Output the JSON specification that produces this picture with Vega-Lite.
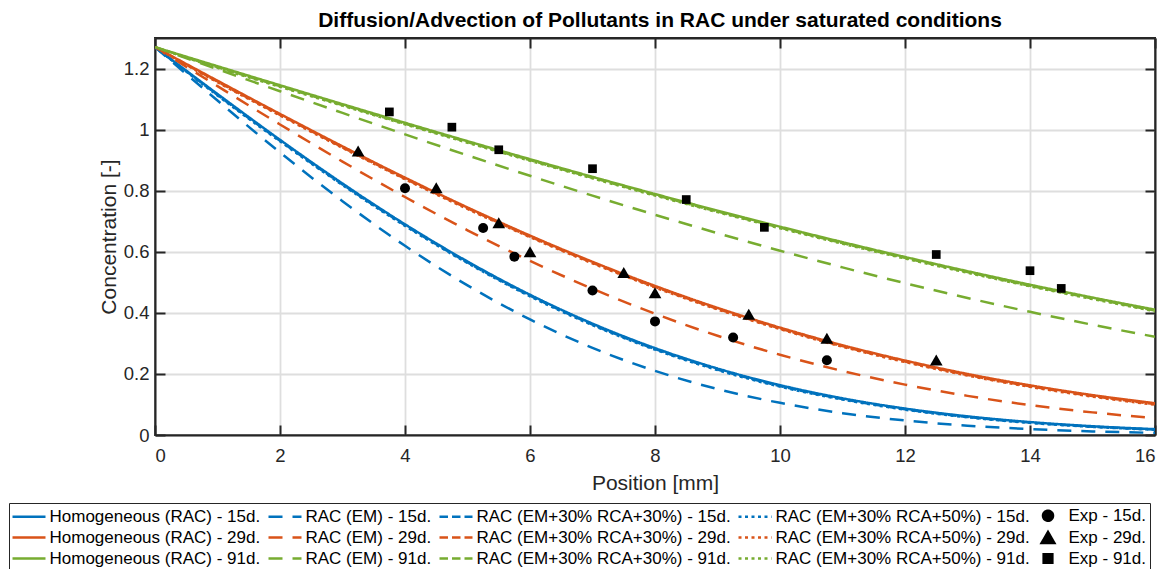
{
  "$schema": "https://vega.github.io/schema/vega-lite/v6.json",
  "width": 1000,
  "height": 397,
  "autosize": {"type": "none"},
  "padding": {"left": 155, "top": 38, "right": 12, "bottom": 134},
  "background": "white",
  "title": {
    "text": "Diffusion/Advection of Pollutants in RAC under saturated conditions",
    "font": "Liberation Sans",
    "fontSize": 21,
    "fontWeight": "bold",
    "color": "#000000",
    "anchor": "middle",
    "frame": "group",
    "dx": 5,
    "offset": 6
  },
  "config": {
    "font": "Liberation Sans",
    "view": {"stroke": "#262626", "strokeWidth": 2},
    "axis": {
      "labelFont": "Liberation Sans",
      "titleFont": "Liberation Sans",
      "labelFontSize": 18.5,
      "titleFontSize": 21,
      "titleFontWeight": "normal",
      "labelColor": "#262626",
      "titleColor": "#262626",
      "domainColor": "#262626",
      "domainWidth": 2,
      "tickColor": "#262626",
      "tickWidth": 2,
      "tickSize": -10,
      "gridColor": "#dedede",
      "gridWidth": 1.8
    },
    "legend": {
      "labelFont": "Liberation Sans",
      "labelFontSize": 17,
      "labelColor": "#000000",
      "symbolSize": 100,
      "symbolStrokeWidth": 2.5,
      "symbolOffset": 7.5,
      "labelOffset": 12,
      "rowPadding": 1,
      "columnPadding": 2,
      "padding": 4,
      "strokeColor": "#262626",
      "fillColor": "white",
      "labelLimit": 0
    }
  },
  "layer": [
    {
      "data": {
        "values": [
          {"s":"Homogeneous (RAC) - 15d.","x":0,"y":1.27},{"s":"Homogeneous (RAC) - 15d.","x":1,"y":1.1166},{"s":"Homogeneous (RAC) - 15d.","x":2,"y":0.9666},{"s":"Homogeneous (RAC) - 15d.","x":3,"y":0.8235},{"s":"Homogeneous (RAC) - 15d.","x":4,"y":0.6899},{"s":"Homogeneous (RAC) - 15d.","x":5,"y":0.5681},{"s":"Homogeneous (RAC) - 15d.","x":6,"y":0.4593},{"s":"Homogeneous (RAC) - 15d.","x":7,"y":0.3647},{"s":"Homogeneous (RAC) - 15d.","x":8,"y":0.2845},{"s":"Homogeneous (RAC) - 15d.","x":9,"y":0.2177},{"s":"Homogeneous (RAC) - 15d.","x":10,"y":0.1633},{"s":"Homogeneous (RAC) - 15d.","x":11,"y":0.1201},{"s":"Homogeneous (RAC) - 15d.","x":12,"y":0.0866},{"s":"Homogeneous (RAC) - 15d.","x":13,"y":0.0611},{"s":"Homogeneous (RAC) - 15d.","x":14,"y":0.0423},{"s":"Homogeneous (RAC) - 15d.","x":15,"y":0.0287},{"s":"Homogeneous (RAC) - 15d.","x":16,"y":0.0191},
          {"s":"Homogeneous (RAC) - 29d.","x":0,"y":1.27},{"s":"Homogeneous (RAC) - 29d.","x":1,"y":1.1601},{"s":"Homogeneous (RAC) - 29d.","x":2,"y":1.0514},{"s":"Homogeneous (RAC) - 29d.","x":3,"y":0.9452},{"s":"Homogeneous (RAC) - 29d.","x":4,"y":0.8427},{"s":"Homogeneous (RAC) - 29d.","x":5,"y":0.7451},{"s":"Homogeneous (RAC) - 29d.","x":6,"y":0.653},{"s":"Homogeneous (RAC) - 29d.","x":7,"y":0.5671},{"s":"Homogeneous (RAC) - 29d.","x":8,"y":0.4882},{"s":"Homogeneous (RAC) - 29d.","x":9,"y":0.4162},{"s":"Homogeneous (RAC) - 29d.","x":10,"y":0.3517},{"s":"Homogeneous (RAC) - 29d.","x":11,"y":0.294},{"s":"Homogeneous (RAC) - 29d.","x":12,"y":0.2439},{"s":"Homogeneous (RAC) - 29d.","x":13,"y":0.1998},{"s":"Homogeneous (RAC) - 29d.","x":14,"y":0.1626},{"s":"Homogeneous (RAC) - 29d.","x":15,"y":0.1306},{"s":"Homogeneous (RAC) - 29d.","x":16,"y":0.1041},
          {"s":"Homogeneous (RAC) - 91d.","x":0,"y":1.27},{"s":"Homogeneous (RAC) - 91d.","x":1,"y":1.2075},{"s":"Homogeneous (RAC) - 91d.","x":2,"y":1.1453},{"s":"Homogeneous (RAC) - 91d.","x":3,"y":1.0834},{"s":"Homogeneous (RAC) - 91d.","x":4,"y":1.0223},{"s":"Homogeneous (RAC) - 91d.","x":5,"y":0.9622},{"s":"Homogeneous (RAC) - 91d.","x":6,"y":0.9031},{"s":"Homogeneous (RAC) - 91d.","x":7,"y":0.8453},{"s":"Homogeneous (RAC) - 91d.","x":8,"y":0.7891},{"s":"Homogeneous (RAC) - 91d.","x":9,"y":0.7347},{"s":"Homogeneous (RAC) - 91d.","x":10,"y":0.6821},{"s":"Homogeneous (RAC) - 91d.","x":11,"y":0.6315},{"s":"Homogeneous (RAC) - 91d.","x":12,"y":0.5829},{"s":"Homogeneous (RAC) - 91d.","x":13,"y":0.5364},{"s":"Homogeneous (RAC) - 91d.","x":14,"y":0.492},{"s":"Homogeneous (RAC) - 91d.","x":15,"y":0.4501},{"s":"Homogeneous (RAC) - 91d.","x":16,"y":0.4104},
          {"s":"RAC (EM) - 15d.","x":0,"y":1.27},{"s":"RAC (EM) - 15d.","x":1,"y":1.0952},{"s":"RAC (EM) - 15d.","x":2,"y":0.9253},{"s":"RAC (EM) - 15d.","x":3,"y":0.7657},{"s":"RAC (EM) - 15d.","x":4,"y":0.6195},{"s":"RAC (EM) - 15d.","x":5,"y":0.49},{"s":"RAC (EM) - 15d.","x":6,"y":0.3785},{"s":"RAC (EM) - 15d.","x":7,"y":0.2853},{"s":"RAC (EM) - 15d.","x":8,"y":0.21},{"s":"RAC (EM) - 15d.","x":9,"y":0.1504},{"s":"RAC (EM) - 15d.","x":10,"y":0.1053},{"s":"RAC (EM) - 15d.","x":11,"y":0.0715},{"s":"RAC (EM) - 15d.","x":12,"y":0.0475},{"s":"RAC (EM) - 15d.","x":13,"y":0.0306},{"s":"RAC (EM) - 15d.","x":14,"y":0.0193},{"s":"RAC (EM) - 15d.","x":15,"y":0.0118},{"s":"RAC (EM) - 15d.","x":16,"y":0.007},
          {"s":"RAC (EM) - 29d.","x":0,"y":1.27},{"s":"RAC (EM) - 29d.","x":1,"y":1.1424},{"s":"RAC (EM) - 29d.","x":2,"y":1.0169},{"s":"RAC (EM) - 29d.","x":3,"y":0.8953},{"s":"RAC (EM) - 29d.","x":4,"y":0.7794},{"s":"RAC (EM) - 29d.","x":5,"y":0.6704},{"s":"RAC (EM) - 29d.","x":6,"y":0.5701},{"s":"RAC (EM) - 29d.","x":7,"y":0.4789},{"s":"RAC (EM) - 29d.","x":8,"y":0.3971},{"s":"RAC (EM) - 29d.","x":9,"y":0.3249},{"s":"RAC (EM) - 29d.","x":10,"y":0.2627},{"s":"RAC (EM) - 29d.","x":11,"y":0.2097},{"s":"RAC (EM) - 29d.","x":12,"y":0.165},{"s":"RAC (EM) - 29d.","x":13,"y":0.1281},{"s":"RAC (EM) - 29d.","x":14,"y":0.0979},{"s":"RAC (EM) - 29d.","x":15,"y":0.0741},{"s":"RAC (EM) - 29d.","x":16,"y":0.0552},
          {"s":"RAC (EM) - 91d.","x":0,"y":1.27},{"s":"RAC (EM) - 91d.","x":1,"y":1.1977},{"s":"RAC (EM) - 91d.","x":2,"y":1.1258},{"s":"RAC (EM) - 91d.","x":3,"y":1.0546},{"s":"RAC (EM) - 91d.","x":4,"y":0.9844},{"s":"RAC (EM) - 91d.","x":5,"y":0.9157},{"s":"RAC (EM) - 91d.","x":6,"y":0.8488},{"s":"RAC (EM) - 91d.","x":7,"y":0.7838},{"s":"RAC (EM) - 91d.","x":8,"y":0.7212},{"s":"RAC (EM) - 91d.","x":9,"y":0.661},{"s":"RAC (EM) - 91d.","x":10,"y":0.6035},{"s":"RAC (EM) - 91d.","x":11,"y":0.5489},{"s":"RAC (EM) - 91d.","x":12,"y":0.4973},{"s":"RAC (EM) - 91d.","x":13,"y":0.4487},{"s":"RAC (EM) - 91d.","x":14,"y":0.4033},{"s":"RAC (EM) - 91d.","x":15,"y":0.3609},{"s":"RAC (EM) - 91d.","x":16,"y":0.3217},
          {"s":"RAC (EM+30% RCA+30%) - 15d.","x":0,"y":1.27},{"s":"RAC (EM+30% RCA+30%) - 15d.","x":1,"y":1.1136},{"s":"RAC (EM+30% RCA+30%) - 15d.","x":2,"y":0.9636},{"s":"RAC (EM+30% RCA+30%) - 15d.","x":3,"y":0.8205},{"s":"RAC (EM+30% RCA+30%) - 15d.","x":4,"y":0.6869},{"s":"RAC (EM+30% RCA+30%) - 15d.","x":5,"y":0.5651},{"s":"RAC (EM+30% RCA+30%) - 15d.","x":6,"y":0.4563},{"s":"RAC (EM+30% RCA+30%) - 15d.","x":7,"y":0.3617},{"s":"RAC (EM+30% RCA+30%) - 15d.","x":8,"y":0.2815},{"s":"RAC (EM+30% RCA+30%) - 15d.","x":9,"y":0.2147},{"s":"RAC (EM+30% RCA+30%) - 15d.","x":10,"y":0.1603},{"s":"RAC (EM+30% RCA+30%) - 15d.","x":11,"y":0.1176},{"s":"RAC (EM+30% RCA+30%) - 15d.","x":12,"y":0.0843},{"s":"RAC (EM+30% RCA+30%) - 15d.","x":13,"y":0.0591},{"s":"RAC (EM+30% RCA+30%) - 15d.","x":14,"y":0.0406},{"s":"RAC (EM+30% RCA+30%) - 15d.","x":15,"y":0.0273},{"s":"RAC (EM+30% RCA+30%) - 15d.","x":16,"y":0.018},
          {"s":"RAC (EM+30% RCA+30%) - 29d.","x":0,"y":1.27},{"s":"RAC (EM+30% RCA+30%) - 29d.","x":1,"y":1.1571},{"s":"RAC (EM+30% RCA+30%) - 29d.","x":2,"y":1.0484},{"s":"RAC (EM+30% RCA+30%) - 29d.","x":3,"y":0.9422},{"s":"RAC (EM+30% RCA+30%) - 29d.","x":4,"y":0.8397},{"s":"RAC (EM+30% RCA+30%) - 29d.","x":5,"y":0.7421},{"s":"RAC (EM+30% RCA+30%) - 29d.","x":6,"y":0.65},{"s":"RAC (EM+30% RCA+30%) - 29d.","x":7,"y":0.5641},{"s":"RAC (EM+30% RCA+30%) - 29d.","x":8,"y":0.4852},{"s":"RAC (EM+30% RCA+30%) - 29d.","x":9,"y":0.4132},{"s":"RAC (EM+30% RCA+30%) - 29d.","x":10,"y":0.3487},{"s":"RAC (EM+30% RCA+30%) - 29d.","x":11,"y":0.291},{"s":"RAC (EM+30% RCA+30%) - 29d.","x":12,"y":0.2409},{"s":"RAC (EM+30% RCA+30%) - 29d.","x":13,"y":0.1968},{"s":"RAC (EM+30% RCA+30%) - 29d.","x":14,"y":0.1596},{"s":"RAC (EM+30% RCA+30%) - 29d.","x":15,"y":0.1276},{"s":"RAC (EM+30% RCA+30%) - 29d.","x":16,"y":0.1011},
          {"s":"RAC (EM+30% RCA+30%) - 91d.","x":0,"y":1.27},{"s":"RAC (EM+30% RCA+30%) - 91d.","x":1,"y":1.2045},{"s":"RAC (EM+30% RCA+30%) - 91d.","x":2,"y":1.1423},{"s":"RAC (EM+30% RCA+30%) - 91d.","x":3,"y":1.0804},{"s":"RAC (EM+30% RCA+30%) - 91d.","x":4,"y":1.0193},{"s":"RAC (EM+30% RCA+30%) - 91d.","x":5,"y":0.9592},{"s":"RAC (EM+30% RCA+30%) - 91d.","x":6,"y":0.9001},{"s":"RAC (EM+30% RCA+30%) - 91d.","x":7,"y":0.8423},{"s":"RAC (EM+30% RCA+30%) - 91d.","x":8,"y":0.7861},{"s":"RAC (EM+30% RCA+30%) - 91d.","x":9,"y":0.7317},{"s":"RAC (EM+30% RCA+30%) - 91d.","x":10,"y":0.6791},{"s":"RAC (EM+30% RCA+30%) - 91d.","x":11,"y":0.6285},{"s":"RAC (EM+30% RCA+30%) - 91d.","x":12,"y":0.5799},{"s":"RAC (EM+30% RCA+30%) - 91d.","x":13,"y":0.5334},{"s":"RAC (EM+30% RCA+30%) - 91d.","x":14,"y":0.489},{"s":"RAC (EM+30% RCA+30%) - 91d.","x":15,"y":0.4471},{"s":"RAC (EM+30% RCA+30%) - 91d.","x":16,"y":0.4074},
          {"s":"RAC (EM+30% RCA+50%) - 15d.","x":0,"y":1.27},{"s":"RAC (EM+30% RCA+50%) - 15d.","x":1,"y":1.1116},{"s":"RAC (EM+30% RCA+50%) - 15d.","x":2,"y":0.9616},{"s":"RAC (EM+30% RCA+50%) - 15d.","x":3,"y":0.8185},{"s":"RAC (EM+30% RCA+50%) - 15d.","x":4,"y":0.6849},{"s":"RAC (EM+30% RCA+50%) - 15d.","x":5,"y":0.5631},{"s":"RAC (EM+30% RCA+50%) - 15d.","x":6,"y":0.4543},{"s":"RAC (EM+30% RCA+50%) - 15d.","x":7,"y":0.3597},{"s":"RAC (EM+30% RCA+50%) - 15d.","x":8,"y":0.2795},{"s":"RAC (EM+30% RCA+50%) - 15d.","x":9,"y":0.2127},{"s":"RAC (EM+30% RCA+50%) - 15d.","x":10,"y":0.1583},{"s":"RAC (EM+30% RCA+50%) - 15d.","x":11,"y":0.1161},{"s":"RAC (EM+30% RCA+50%) - 15d.","x":12,"y":0.083},{"s":"RAC (EM+30% RCA+50%) - 15d.","x":13,"y":0.058},{"s":"RAC (EM+30% RCA+50%) - 15d.","x":14,"y":0.0397},{"s":"RAC (EM+30% RCA+50%) - 15d.","x":15,"y":0.0266},{"s":"RAC (EM+30% RCA+50%) - 15d.","x":16,"y":0.0174},
          {"s":"RAC (EM+30% RCA+50%) - 29d.","x":0,"y":1.27},{"s":"RAC (EM+30% RCA+50%) - 29d.","x":1,"y":1.1551},{"s":"RAC (EM+30% RCA+50%) - 29d.","x":2,"y":1.0464},{"s":"RAC (EM+30% RCA+50%) - 29d.","x":3,"y":0.9402},{"s":"RAC (EM+30% RCA+50%) - 29d.","x":4,"y":0.8377},{"s":"RAC (EM+30% RCA+50%) - 29d.","x":5,"y":0.7401},{"s":"RAC (EM+30% RCA+50%) - 29d.","x":6,"y":0.648},{"s":"RAC (EM+30% RCA+50%) - 29d.","x":7,"y":0.5621},{"s":"RAC (EM+30% RCA+50%) - 29d.","x":8,"y":0.4832},{"s":"RAC (EM+30% RCA+50%) - 29d.","x":9,"y":0.4112},{"s":"RAC (EM+30% RCA+50%) - 29d.","x":10,"y":0.3467},{"s":"RAC (EM+30% RCA+50%) - 29d.","x":11,"y":0.289},{"s":"RAC (EM+30% RCA+50%) - 29d.","x":12,"y":0.2389},{"s":"RAC (EM+30% RCA+50%) - 29d.","x":13,"y":0.1948},{"s":"RAC (EM+30% RCA+50%) - 29d.","x":14,"y":0.1576},{"s":"RAC (EM+30% RCA+50%) - 29d.","x":15,"y":0.1256},{"s":"RAC (EM+30% RCA+50%) - 29d.","x":16,"y":0.0991},
          {"s":"RAC (EM+30% RCA+50%) - 91d.","x":0,"y":1.27},{"s":"RAC (EM+30% RCA+50%) - 91d.","x":1,"y":1.2025},{"s":"RAC (EM+30% RCA+50%) - 91d.","x":2,"y":1.1403},{"s":"RAC (EM+30% RCA+50%) - 91d.","x":3,"y":1.0784},{"s":"RAC (EM+30% RCA+50%) - 91d.","x":4,"y":1.0173},{"s":"RAC (EM+30% RCA+50%) - 91d.","x":5,"y":0.9572},{"s":"RAC (EM+30% RCA+50%) - 91d.","x":6,"y":0.8981},{"s":"RAC (EM+30% RCA+50%) - 91d.","x":7,"y":0.8403},{"s":"RAC (EM+30% RCA+50%) - 91d.","x":8,"y":0.7841},{"s":"RAC (EM+30% RCA+50%) - 91d.","x":9,"y":0.7297},{"s":"RAC (EM+30% RCA+50%) - 91d.","x":10,"y":0.6771},{"s":"RAC (EM+30% RCA+50%) - 91d.","x":11,"y":0.6265},{"s":"RAC (EM+30% RCA+50%) - 91d.","x":12,"y":0.5779},{"s":"RAC (EM+30% RCA+50%) - 91d.","x":13,"y":0.5314},{"s":"RAC (EM+30% RCA+50%) - 91d.","x":14,"y":0.487},{"s":"RAC (EM+30% RCA+50%) - 91d.","x":15,"y":0.4451},{"s":"RAC (EM+30% RCA+50%) - 91d.","x":16,"y":0.4054}
        ]
      },
      "mark": {"type": "line", "strokeWidth": 2.5, "interpolate": "monotone", "clip": true},
      "encoding": {
        "x": {"field": "x", "type": "quantitative", "scale": {"domain": [0, 16], "nice": false},
              "axis": {"title": "Position [mm]", "values": [0,2,4,6,8,10,12,14,16], "format": "d", "grid": true, "labelPadding": 21, "titlePadding": 8}},
        "y": {"field": "y", "type": "quantitative", "scale": {"domain": [0, 1.3], "nice": false},
              "axis": {"title": "Concentration [-]", "values": [0,0.2,0.4,0.6,0.8,1,1.2], "format": "~g", "grid": true, "labelPadding": 16, "titlePadding": 4}},
        "color": {"field": "s", "type": "nominal",
          "scale": {
            "domain": ["Homogeneous (RAC) - 15d.","RAC (EM) - 15d.","RAC (EM+30% RCA+30%) - 15d.","RAC (EM+30% RCA+50%) - 15d.","Exp - 15d.","Homogeneous (RAC) - 29d.","RAC (EM) - 29d.","RAC (EM+30% RCA+30%) - 29d.","RAC (EM+30% RCA+50%) - 29d.","Exp - 29d.","Homogeneous (RAC) - 91d.","RAC (EM) - 91d.","RAC (EM+30% RCA+30%) - 91d.","RAC (EM+30% RCA+50%) - 91d.","Exp - 91d."],
            "range": ["#0072BD","#0072BD","#0072BD","#0072BD","#000000","#D95319","#D95319","#D95319","#D95319","#000000","#77AC30","#77AC30","#77AC30","#77AC30","#000000"]
          },
          "legend": {"title": null, "orient": "none", "legendX": -146, "legendY": 465, "columns": 5, "direction": "horizontal", "labelFontSize": 17}
        },
        "strokeDash": {"field": "s", "type": "nominal",
          "scale": {
            "domain": ["Homogeneous (RAC) - 15d.","RAC (EM) - 15d.","RAC (EM+30% RCA+30%) - 15d.","RAC (EM+30% RCA+50%) - 15d.","Exp - 15d.","Homogeneous (RAC) - 29d.","RAC (EM) - 29d.","RAC (EM+30% RCA+30%) - 29d.","RAC (EM+30% RCA+50%) - 29d.","Exp - 29d.","Homogeneous (RAC) - 91d.","RAC (EM) - 91d.","RAC (EM+30% RCA+30%) - 91d.","RAC (EM+30% RCA+50%) - 91d.","Exp - 91d."],
            "range": [[1,0],[14,10],[8.5,4],[3,3.5],[1,0],[1,0],[14,10],[8.5,4],[3,3.5],[1,0],[1,0],[14,10],[8.5,4],[3,3.5],[1,0]]
          },
          "legend": {"title": null, "orient": "none", "legendX": -146, "legendY": 465, "columns": 5, "direction": "horizontal", "labelFontSize": 17}
        }
      }
    },
    {
      "data": {
        "values": [
          {"s":"Exp - 15d.","x":4,"y":0.808},{"s":"Exp - 15d.","x":5.25,"y":0.678},{"s":"Exp - 15d.","x":5.75,"y":0.584},{"s":"Exp - 15d.","x":7,"y":0.473},{"s":"Exp - 15d.","x":8,"y":0.372},{"s":"Exp - 15d.","x":9.25,"y":0.319},{"s":"Exp - 15d.","x":10.75,"y":0.245},
          {"s":"Exp - 29d.","x":3.25,"y":0.93},{"s":"Exp - 29d.","x":4.5,"y":0.81},{"s":"Exp - 29d.","x":5.5,"y":0.695},{"s":"Exp - 29d.","x":6,"y":0.6},{"s":"Exp - 29d.","x":7.5,"y":0.532},{"s":"Exp - 29d.","x":8,"y":0.466},{"s":"Exp - 29d.","x":9.5,"y":0.395},{"s":"Exp - 29d.","x":10.75,"y":0.317},{"s":"Exp - 29d.","x":12.5,"y":0.246},
          {"s":"Exp - 91d.","x":3.75,"y":1.058},{"s":"Exp - 91d.","x":4.75,"y":1.008},{"s":"Exp - 91d.","x":5.5,"y":0.934},{"s":"Exp - 91d.","x":7,"y":0.872},{"s":"Exp - 91d.","x":8.5,"y":0.771},{"s":"Exp - 91d.","x":9.75,"y":0.68},{"s":"Exp - 91d.","x":12.5,"y":0.591},{"s":"Exp - 91d.","x":14,"y":0.538},{"s":"Exp - 91d.","x":14.5,"y":0.48}
        ]
      },
      "mark": {"type": "point", "filled": true, "size": 100, "opacity": 1, "strokeWidth": 1},
      "encoding": {
        "x": {"field": "x", "type": "quantitative", "scale": {"domain": [0, 16], "nice": false},
              "axis": {"orient": "top", "title": null, "labels": false, "grid": false, "values": [0,2,4,6,8,10,12,14,16]}},
        "y": {"field": "y", "type": "quantitative", "scale": {"domain": [0, 1.3], "nice": false},
              "axis": {"orient": "right", "title": null, "labels": false, "grid": false, "values": [0,0.2,0.4,0.6,0.8,1,1.2]}},
        "color": {"field": "s", "type": "nominal",
          "scale": {
            "domain": ["Homogeneous (RAC) - 15d.","RAC (EM) - 15d.","RAC (EM+30% RCA+30%) - 15d.","RAC (EM+30% RCA+50%) - 15d.","Exp - 15d.","Homogeneous (RAC) - 29d.","RAC (EM) - 29d.","RAC (EM+30% RCA+30%) - 29d.","RAC (EM+30% RCA+50%) - 29d.","Exp - 29d.","Homogeneous (RAC) - 91d.","RAC (EM) - 91d.","RAC (EM+30% RCA+30%) - 91d.","RAC (EM+30% RCA+50%) - 91d.","Exp - 91d."],
            "range": ["#0072BD","#0072BD","#0072BD","#0072BD","#000000","#D95319","#D95319","#D95319","#D95319","#000000","#77AC30","#77AC30","#77AC30","#77AC30","#000000"]
          },
          "legend": {"title": null, "orient": "none", "legendX": -146, "legendY": 465, "columns": 5, "direction": "horizontal", "labelFontSize": 17}
        },
        "shape": {"field": "s", "type": "nominal",
          "scale": {
            "domain": ["Homogeneous (RAC) - 15d.","RAC (EM) - 15d.","RAC (EM+30% RCA+30%) - 15d.","RAC (EM+30% RCA+50%) - 15d.","Exp - 15d.","Homogeneous (RAC) - 29d.","RAC (EM) - 29d.","RAC (EM+30% RCA+30%) - 29d.","RAC (EM+30% RCA+50%) - 29d.","Exp - 29d.","Homogeneous (RAC) - 91d.","RAC (EM) - 91d.","RAC (EM+30% RCA+30%) - 91d.","RAC (EM+30% RCA+50%) - 91d.","Exp - 91d."],
            "range": ["M-3.3,0H3.3","M-3.3,0H3.3","M-3.3,0H3.3","M-3.3,0H3.3","circle","M-3.3,0H3.3","M-3.3,0H3.3","M-3.3,0H3.3","M-3.3,0H3.3","M0,-1.1L1.27,1.1L-1.27,1.1Z","M-3.3,0H3.3","M-3.3,0H3.3","M-3.3,0H3.3","M-3.3,0H3.3","M-0.87,-0.87H0.87V0.87H-0.87Z"]
          },
          "legend": {"title": null, "orient": "none", "legendX": -146, "legendY": 465, "columns": 5, "direction": "horizontal", "labelFontSize": 17}
        }
      }
    }
  ],
  "resolve": {"axis": {"x": "independent", "y": "independent"}}
}
